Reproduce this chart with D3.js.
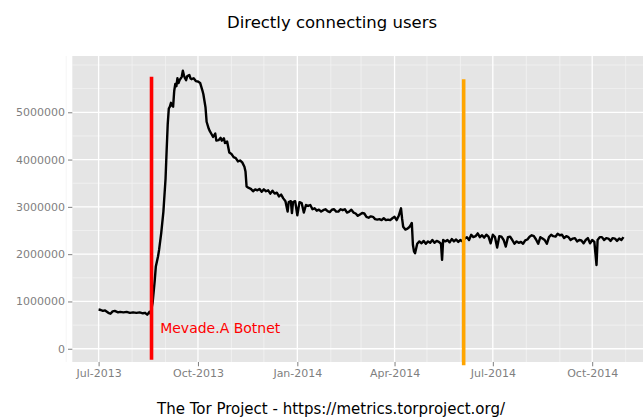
<!DOCTYPE html>
<html>
<head>
<meta charset="utf-8">
<script src="https://cdn.jsdelivr.net/npm/d3@7"></script>
<style>
  body { margin: 0; background: #fff; }
  svg { display: block; font-family: "DejaVu Sans", sans-serif; }
</style>
</head>
<body>
<div id="chart"></div>
<script>
// chart size
const width = 643, height = 417;

// daily directly connecting users (in millions)
const dates = [
  "2013-07-01","2013-07-03","2013-07-05","2013-07-07","2013-07-10","2013-07-12","2013-07-14","2013-07-16",
  "2013-07-19","2013-07-21","2013-07-24","2013-07-27","2013-07-30","2013-08-02","2013-08-05","2013-08-08",
  "2013-08-11","2013-08-13","2013-08-15","2013-08-17","2013-08-18","2013-08-19","2013-08-20","2013-08-22",
  "2013-08-23","2013-08-25","2013-08-26","2013-08-28","2013-08-30","2013-09-01","2013-09-02","2013-09-03",
  "2013-09-04","2013-09-05","2013-09-06","2013-09-07","2013-09-08","2013-09-09","2013-09-10","2013-09-11",
  "2013-09-12","2013-09-13","2013-09-14","2013-09-16","2013-09-17","2013-09-18","2013-09-19","2013-09-20",
  "2013-09-21","2013-09-23","2013-09-24","2013-09-25","2013-09-27","2013-09-29","2013-10-01","2013-10-03",
  "2013-10-05","2013-10-06","2013-10-08","2013-10-09","2013-10-11","2013-10-12","2013-10-14","2013-10-15",
  "2013-10-17","2013-10-18","2013-10-20","2013-10-22","2013-10-23","2013-10-25","2013-10-26","2013-10-28",
  "2013-10-30","2013-11-01","2013-11-03","2013-11-05","2013-11-07","2013-11-09","2013-11-11","2013-11-13",
  "2013-11-14","2013-11-15","2013-11-17","2013-11-19","2013-11-21","2013-11-23","2013-11-25","2013-11-27",
  "2013-11-29","2013-12-01","2013-12-03","2013-12-05","2013-12-07","2013-12-09","2013-12-11","2013-12-13",
  "2013-12-15","2013-12-17","2013-12-19","2013-12-21","2013-12-23","2013-12-24","2013-12-26","2013-12-27",
  "2013-12-28","2013-12-30","2014-01-01","2014-01-03","2014-01-05","2014-01-07","2014-01-09","2014-01-11",
  "2014-01-13","2014-01-15","2014-01-17","2014-01-19","2014-01-21","2014-01-23","2014-01-25","2014-01-27",
  "2014-01-29","2014-01-31","2014-02-02","2014-02-04","2014-02-06","2014-02-08","2014-02-10","2014-02-12",
  "2014-02-14","2014-02-16","2014-02-18","2014-02-20","2014-02-22","2014-02-24","2014-02-26","2014-02-28",
  "2014-03-02","2014-03-04","2014-03-06","2014-03-08","2014-03-10","2014-03-12","2014-03-14","2014-03-16",
  "2014-03-18","2014-03-20","2014-03-22","2014-03-24","2014-03-26","2014-03-28","2014-03-30","2014-04-01",
  "2014-04-03","2014-04-05","2014-04-07","2014-04-08","2014-04-09","2014-04-11","2014-04-13","2014-04-15",
  "2014-04-17","2014-04-18","2014-04-19","2014-04-20","2014-04-22","2014-04-24","2014-04-26","2014-04-28",
  "2014-04-30","2014-05-02","2014-05-04","2014-05-06","2014-05-08","2014-05-10","2014-05-12","2014-05-14",
  "2014-05-15","2014-05-16","2014-05-18","2014-05-20","2014-05-22","2014-05-24","2014-05-26","2014-05-28",
  "2014-05-30","2014-06-01","2014-06-03","2014-06-05","2014-06-07","2014-06-09","2014-06-11","2014-06-13",
  "2014-06-15","2014-06-17","2014-06-19","2014-06-21","2014-06-23","2014-06-25","2014-06-27","2014-06-29",
  "2014-07-01","2014-07-03","2014-07-05","2014-07-07","2014-07-09","2014-07-11","2014-07-13","2014-07-15",
  "2014-07-17","2014-07-19","2014-07-21","2014-07-23","2014-07-25","2014-07-27","2014-07-29","2014-07-31",
  "2014-08-02","2014-08-04","2014-08-06","2014-08-08","2014-08-10","2014-08-12","2014-08-14","2014-08-16",
  "2014-08-18","2014-08-20","2014-08-22","2014-08-24","2014-08-26","2014-08-28","2014-08-30","2014-09-01",
  "2014-09-03","2014-09-05","2014-09-07","2014-09-09","2014-09-11","2014-09-13","2014-09-15","2014-09-17",
  "2014-09-19","2014-09-21","2014-09-23","2014-09-25","2014-09-27","2014-09-29","2014-10-01","2014-10-03",
  "2014-10-05","2014-10-06","2014-10-08","2014-10-10","2014-10-12","2014-10-14","2014-10-16","2014-10-18",
  "2014-10-20","2014-10-22","2014-10-24","2014-10-26","2014-10-28","2014-10-30"
];
const users = [
  0.83,0.82,0.80,0.81,0.76,0.74,0.79,0.80,
  0.77,0.78,0.77,0.78,0.76,0.77,0.76,0.77,
  0.75,0.76,0.72,0.78,0.74,0.85,0.97,1.45,
  1.74,1.95,2.09,2.45,2.90,3.60,4.20,4.75,
  5.08,5.12,5.20,5.14,5.12,5.45,5.60,5.55,
  5.72,5.62,5.68,5.75,5.88,5.78,5.72,5.68,
  5.76,5.79,5.72,5.70,5.72,5.66,5.65,5.62,
  5.47,5.38,5.10,4.80,4.65,4.60,4.52,4.48,
  4.55,4.40,4.41,4.46,4.40,4.45,4.35,4.38,
  4.15,4.12,4.05,4.03,3.96,3.98,3.94,3.85,
  3.75,3.43,3.40,3.38,3.33,3.37,3.35,3.38,
  3.32,3.37,3.33,3.35,3.28,3.34,3.28,3.30,
  3.22,3.26,3.18,3.12,2.90,3.10,3.12,2.87,
  3.10,3.12,2.82,3.10,3.08,2.88,3.04,3.02,
  3.04,2.95,2.97,2.92,2.94,2.90,2.93,2.95,
  2.91,2.89,2.94,2.95,2.90,2.90,2.95,2.93,
  2.95,2.88,2.90,2.94,2.88,2.86,2.81,2.84,
  2.87,2.86,2.79,2.77,2.80,2.79,2.74,2.73,
  2.74,2.72,2.76,2.72,2.73,2.72,2.76,2.79,
  2.72,2.82,2.97,2.75,2.58,2.52,2.54,2.58,
  2.66,2.20,2.06,2.02,2.22,2.27,2.23,2.28,
  2.22,2.27,2.24,2.30,2.24,2.28,2.26,2.22,
  1.88,2.30,2.27,2.30,2.25,2.32,2.27,2.31,
  2.26,2.30,2.27,2.33,2.36,2.30,2.41,2.36,
  2.38,2.44,2.36,2.40,2.35,2.41,2.37,2.23,
  2.41,2.36,2.14,2.38,2.37,2.30,2.16,2.36,
  2.37,2.30,2.22,2.27,2.24,2.26,2.22,2.29,
  2.31,2.37,2.40,2.38,2.31,2.22,2.36,2.33,
  2.30,2.22,2.36,2.41,2.38,2.37,2.43,2.40,
  2.41,2.34,2.38,2.36,2.30,2.33,2.34,2.27,
  2.30,2.29,2.23,2.30,2.34,2.23,2.30,2.26,
  1.77,2.30,2.36,2.36,2.30,2.34,2.33,2.28,
  2.34,2.33,2.28,2.33,2.30,2.36
];

// events marked with vertical lines
const eventDates = ["2013-08-19", "2014-06-04"];
const eventTop = [5.75, 5.70];
const eventBottom = [-0.23, -0.35];
const eventColors = ["#ff0000", "#ffa500"];
const eventLabels = ["Mevade.A Botnet", ""];

// axis ticks
const yTicks = [0, 1, 2, 3, 4, 5];
const yMinor = [0.5, 1.5, 2.5, 3.5, 4.5, 5.5, 6];
const xTicks = ["2013-07-01","2013-10-01","2014-01-01","2014-04-01","2014-07-01","2014-10-01"];

const parse = d3.utcParse("%Y-%m-%d");
const data = dates.map((d, i) => ({date: parse(d), value: users[i] * 1e6}));

const panel = {left: 72.3, right: 650.9, top: 56, bottom: 362};

// data range + 5% padding like ggplot
const x = d3.scaleUtc()
    .domain([parse("2013-07-01"), parse("2014-10-31")])
    .range([98.6, 624.6]);
const y = d3.scaleLinear()
    .domain([-0.28e6, 6.19e6])
    .range([panel.bottom, panel.top]);

const svg = d3.select("#chart").append("svg")
    .attr("width", width)
    .attr("height", height);

svg.append("rect")
    .attr("x", panel.left)
    .attr("y", panel.top)
    .attr("width", panel.right - panel.left)
    .attr("height", panel.bottom - panel.top)
    .attr("fill", "#e5e5e5");

// minor grid
let monthly = d3.utcMonth.range(parse("2013-06-01"), parse("2014-12-01"));
svg.append("g").selectAll("line")
    .data(monthly.filter(d => !xTicks.includes(d3.utcFormat("%Y-%m-%d")(d))))
    .enter().append("line")
    .attr("x1", d => x(d)).attr("x2", d => x(d))
    .attr("y1", panel.top).attr("y2", panel.bottom)
    .attr("stroke", "#f2f2f2").attr("stroke-width", 0.8);
svg.append("g").selectAll("line")
    .data(yMinor)
    .enter().append("line")
    .attr("x1", panel.left).attr("x2", panel.right)
    .attr("y1", d => y(d * 1e6)).attr("y2", d => y(d * 1e6))
    .attr("stroke", "#f2f2f2").attr("stroke-width", 0.8);

// major grid
svg.append("g").selectAll("line")
    .data(xTicks)
    .enter().append("line")
    .attr("x1", d => x(parse(d))).attr("x2", d => x(parse(d)))
    .attr("y1", panel.top).attr("y2", panel.bottom)
    .attr("stroke", "#fff").attr("stroke-width", 1.3);
svg.append("g").selectAll("line")
    .data(yTicks)
    .enter().append("line")
    .attr("x1", panel.left).attr("x2", panel.right)
    .attr("y1", d => y(d * 1e6)).attr("y2", d => y(d * 1e6))
    .attr("stroke", "#fff").attr("stroke-width", 1.3);

// the line
svg.append("path")
    .datum(data)
    .attr("fill", "none")
    .attr("stroke", "#000")
    .attr("stroke-width", 2.4)
    .attr("stroke-linejoin", "round")
    .attr("d", d3.line().x(d => x(d.date)).y(d => y(d.value)));

// event lines
svg.append("g").selectAll("line")
    .data(eventDates)
    .enter().append("line")
    .attr("x1", d => x(parse(d))).attr("x2", d => x(parse(d)))
    .attr("y1", (d, i) => y(eventTop[i] * 1e6))
    .attr("y2", (d, i) => y(eventBottom[i] * 1e6))
    .attr("stroke", (d, i) => eventColors[i])
    .attr("stroke-width", 3.6);

svg.append("text")
    .text(eventLabels[0])
    .attr("x", x(parse("2013-08-27")))
    .attr("y", y(0.44e6))
    .attr("dy", "0.36em")
    .attr("fill", eventColors[0])
    .style("font-size", "14px");

// y axis
let yAxis = svg.append("g")
    .attr("transform", "translate(" + panel.left + ",0)")
    .call(d3.axisLeft(y).tickValues(yTicks.map(d => d * 1e6)).tickFormat(d3.format("d")).tickSize(4.3).tickPadding(3));
yAxis.select(".domain").remove();
yAxis.selectAll("line").attr("stroke", "#7f7f7f");
yAxis.selectAll("text").attr("fill", "#7f7f7f").style("font-size", "11px").style("font-family", "DejaVu Sans");

// x axis
let xAxis = svg.append("g")
    .attr("transform", "translate(0," + panel.bottom + ")")
    .call(d3.axisBottom(x).tickValues(xTicks.map(parse)).tickFormat(d3.utcFormat("%b-%Y")).tickSize(4.3).tickPadding(3));
xAxis.select(".domain").remove();
xAxis.selectAll("line").attr("stroke", "#7f7f7f");
xAxis.selectAll("text").attr("fill", "#7f7f7f").style("font-size", "11px").style("font-family", "DejaVu Sans");

// title and caption
svg.append("text")
    .text("Directly connecting users")
    .attr("x", 332).attr("y", 28)
    .style("text-anchor", "middle")
    .style("font-size", "16.5px");

svg.append("text")
    .text("The Tor Project - https://metrics.torproject.org/")
    .attr("x", 331).attr("y", 414)
    .style("text-anchor", "middle")
    .style("font-size", "15px");
</script>
</body>
</html>
